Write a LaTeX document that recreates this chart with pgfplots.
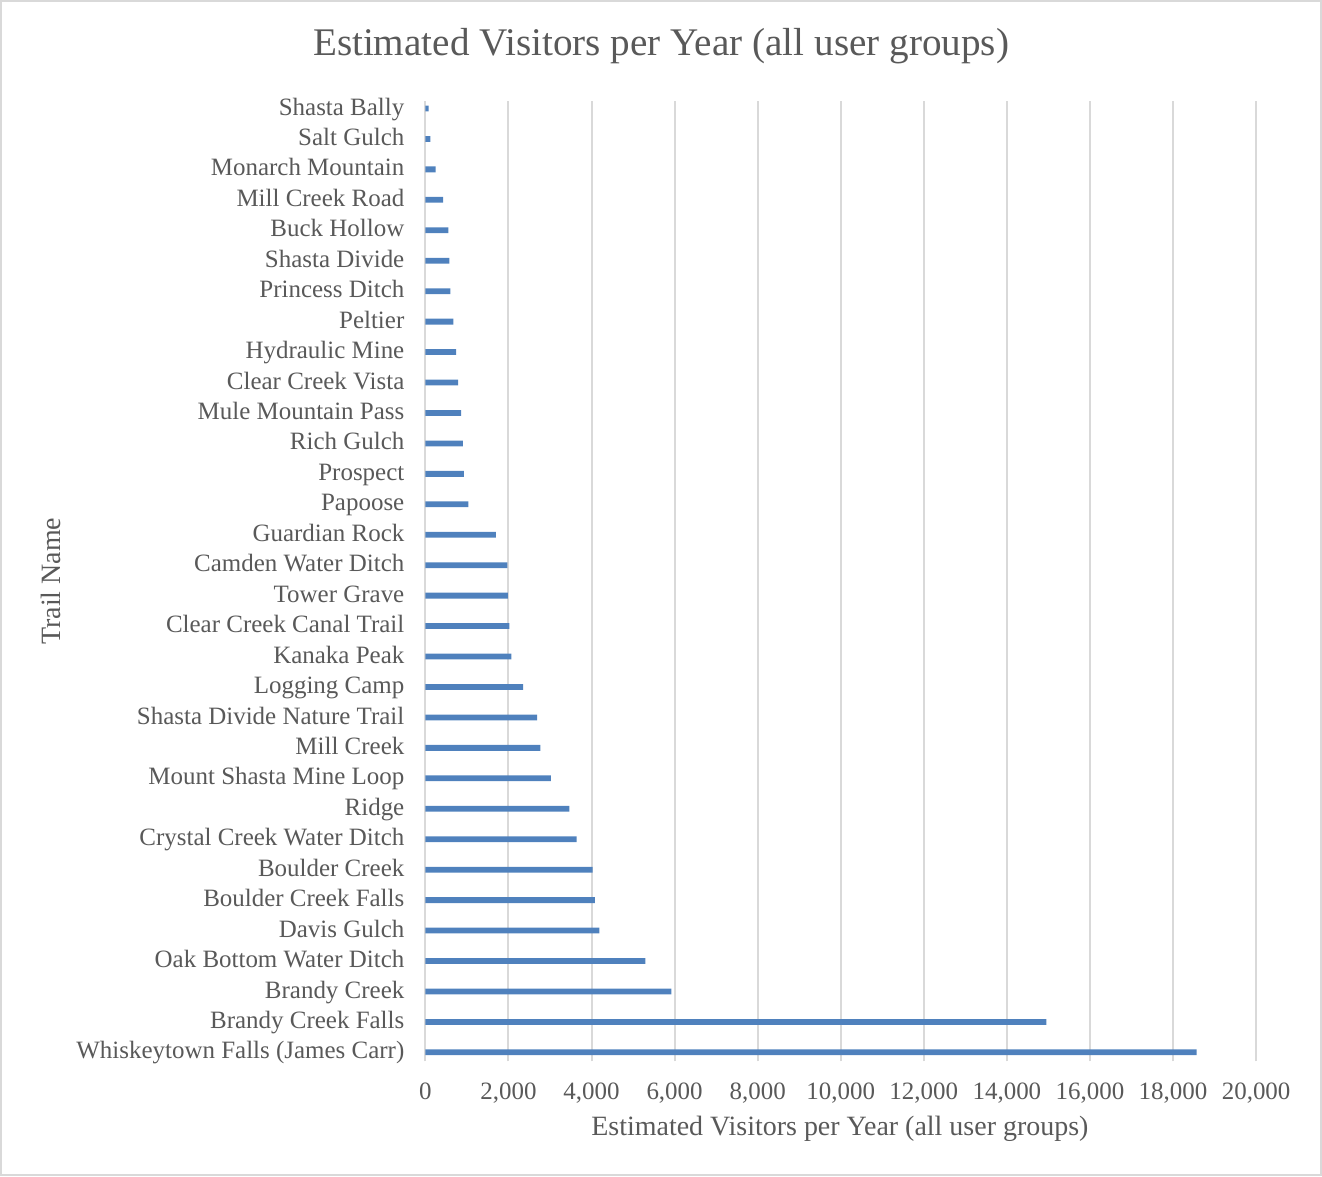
\documentclass[border=0pt]{standalone}
\usepackage{fontspec}
\setmainfont{Liberation Serif}
\usepackage{pgfplots}
\usepackage{pgfplotstable}
\pgfplotsset{compat=1.18}
\definecolor{barblue}{RGB}{79,129,189}
\definecolor{txt}{RGB}{89,89,89}
\definecolor{gridc}{RGB}{217,217,217}
\pgfplotstableread{
y v
0 18570
1 14950
2 5920
3 5295
4 4190
5 4080
6 4025
7 3640
8 3470
9 3020
10 2770
11 2690
12 2355
13 2070
14 2025
15 1985
16 1975
17 1700
18 1035
19 930
20 905
21 860
22 790
23 740
24 675
25 600
26 580
27 555
28 425
29 250
30 120
31 80
}\datatable
\begin{document}
\begin{tikzpicture}
\begin{axis}[
  scale only axis, width=416pt, height=481pt,
  xmin=0, xmax=20000, ymin=-0.3, ymax=31.25,
  xbar, bar width=2.9pt,
  clip=false,
  axis line style={draw=none},
  major tick length=0pt,
  xtick={0,2000,...,20000},
  ytick={0,...,31},
  yticklabels={Whiskeytown Falls (James Carr),Brandy Creek Falls,Brandy Creek,Oak Bottom Water Ditch,Davis Gulch,Boulder Creek Falls,Boulder Creek,Crystal Creek Water Ditch,Ridge,Mount Shasta Mine Loop,Mill Creek,Shasta Divide Nature Trail,Logging Camp,Kanaka Peak,Clear Creek Canal Trail,Tower Grave,Camden Water Ditch,Guardian Rock,Papoose,Prospect,Rich Gulch,Mule Mountain Pass,Clear Creek Vista,Hydraulic Mine,Peltier,Princess Ditch,Shasta Divide,Buck Hollow,Mill Creek Road,Monarch Mountain,Salt Gulch,Shasta Bally},
  xmajorgrids,
  major grid style={draw=gridc, line width=1pt},
  ticklabel style={font=\fontsize{12.5}{15}\selectfont, text=txt},
  xticklabel style={yshift=-7pt},
  yticklabel style={xshift=-7pt, yshift=-1pt, text height=0.68em, text depth=0.22em},
  scaled x ticks=false,
  /pgf/number format/assume math mode=true,
  /pgf/number format/1000 sep={,},
]
\addplot[fill=barblue, draw=none] table[x=v, y=y] {\datatable};
\draw[gridc, line width=1pt] (rel axis cs:-0.5108,-0.1185) rectangle (rel axis cs:1.0781,1.104);
\node[font=\fontsize{19.6}{23}\selectfont, text=txt] at (rel axis cs:0.2837,1.0572) {Estimated Visitors per Year (all user groups)};
\node[font=\fontsize{14}{17}\selectfont, text=txt] at (rel axis cs:0.499,-0.0696) {Estimated Visitors per Year (all user groups)};
\node[font=\fontsize{14}{17}\selectfont, text=txt, rotate=90] at (rel axis cs:-0.4507,0.5) {Trail Name};
\end{axis}
\end{tikzpicture}
\end{document}
